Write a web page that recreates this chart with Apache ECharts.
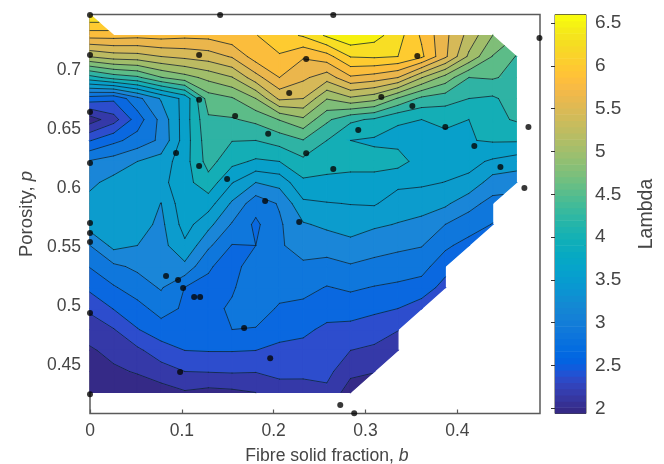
<!DOCTYPE html>
<html><head><meta charset="utf-8">
<style>html,body{margin:0;padding:0;background:#fff}#c{width:664px;height:464px}</style>
<script src="https://cdn.jsdelivr.net/npm/echarts@6/dist/echarts.min.js"></script>
</head><body><div id="c"></div>
<script>
const bTicks=[0,0.1,0.2,0.3,0.4];
const pTicks=[0.45,0.5,0.55,0.6,0.65,0.7];
const lambdaTicks=[2,2.5,3,3.5,4,4.5,5,5.5,6,6.5];
const B_MAX=0.49,P_MIN=0.409,P_MAX=0.747,LAMBDA_MIN=1.94,LAMBDA_MAX=6.6;
const bMesh=[0,0.0258,0.0516,0.0774,0.1032,0.1289,0.1547,0.1805,0.2063,0.2321,0.2579,0.2837,0.3095,0.3353,0.3611,0.3868,0.4126,0.4384,0.4642];
const pMesh=[0.747,0.7292,0.7114,0.6936,0.6758,0.658,0.6403,0.6225,0.6047,0.5869,0.5691,0.5513,0.5335,0.5157,0.4979,0.4801,0.4624,0.4446,0.4268];
// Lambda, in contour steps above LAMBDA_MIN, row by row from the top
const _=null;
const lambdaSteps=[
[18.95,_,_,_,_,_,_,_,_,_,_,_,_,_,_,_,_,_,_],
[16.4,16.4,16.3,16.4,16.25,16.3,16.7,16.95,17.6,18.1,19.15,19.8,19.4,18.4,16.85,15.25,13.65,12.0,_],
[13.05,13.5,13.6,14,14.25,14.5,15.1,16.5,16.9,16.1,16.6,18.05,18.15,18.0,17.2,15.2,12.8,10.95,9.95],
[8.6,9.4,9.8,10.95,11.6,12.3,12.95,14.6,16.0,15.2,14.45,15.85,15.55,15.0,13.05,11.6,10.0,10.1,9.7],
[3.5,3.2,4.7,6.1,7.3,10.5,10.9,12.0,14.2,14.0,12.05,12.8,12.35,10.9,9.75,9.45,9.0,8.85,9.45],
[0.5,1.6,3.5,5.3,7.5,9.85,9.9,10.25,11.05,11.8,10.2,9.2,8.85,8.1,8.0,8.2,8.0,8.75,9.1],
[2.95,3.75,4.4,5.2,7.5,9.6,9.03,9.0,9.4,9.95,9.0,8.0,7.85,7.75,7.75,7.75,7.95,8.1,8.1],
[5.1,5.45,6.0,6.45,7.6,9.4,8.3,7.85,8.0,8.75,8.4,8.3,8.35,8.35,7.6,7.45,7.3,6.85,6.5],
[5.8,6.3,6.5,6.7,7.65,8.6,7.05,6.0,6.35,7.8,7.75,7.7,7.65,7.25,7.15,6.98,6.75,5.5,5.4],
[6.3,6.7,6.65,5.98,7.7,7.45,5.85,4.4,5.1,6.8,6.95,7.03,7.1,6.5,6.45,6.2,5.3,4.7,_],
[6.5,6.65,6.45,5.75,7.4,6.3,4.9,3.8,4.85,5.9,6.2,6.45,6.15,5.95,5.7,5.0,4.55,3.95,_],
[5.0,6.3,6.0,5.65,6.8,5.2,3.95,4.0,4.9,5.35,5.45,5.7,5.4,5.2,5.05,4.2,3.6,_,_],
[4.05,4.8,5.2,5.55,5.75,4.05,3.8,4.3,4.95,4.85,4.65,4.9,4.7,4.55,4.35,3.4,_,_,_],
[3.25,3.9,4.5,5.1,3.98,3.9,3.92,4.45,4.3,4.3,3.95,4.15,3.95,3.8,3.6,2.6,_,_,_],
[2.15,3.05,3.65,4.4,3.85,3.8,4.1,4.4,3.9,3.75,3.4,3.45,3.2,3.0,2.45,_,_,_,_],
[1.55,1.95,2.95,3.55,3.55,3.7,4.0,3.95,3.55,3.2,2.8,2.7,2.5,2.05,_,_,_,_,_],
[0.85,1.35,1.8,2.55,3.0,3.05,3.05,3.0,2.65,2.7,2.5,2.0,1.8,1.3,_,_,_,_,_],
[0.5,0.8,1.1,1.55,2.0,2.05,2.1,2.05,2.2,2.25,2.3,1.25,1.05,_,_,_,_,_,_],
[0.1,0.15,0.3,0.55,0.9,0.7,0.8,1.0,1.65,1.55,1.75,0.5,_,_,_,_,_,_,_]
];
const dotB=[0,0.1417,0.2649,0.4894,0,0.1188,0.2354,0.2169,0.3564,0.1188,0.158,0,0.194,0.0937,0,0.1188,0.1493,0.2354,0.1907,0.3172,0.351,0.2921,0.3869,0.4185,0.2649,0.4469,0.4774,0.473,0,0,0,0.0828,0.0959,0.1014,0.1134,0.1199,0.2278,0,0.1678,0.1962,0.0981,0,0.2725,0.2877];
const dotP=[0.7466,0.7466,0.7466,0.7271,0.7127,0.7127,0.7093,0.6805,0.7119,0.6748,0.661,0.6644,0.646,0.6297,0.6212,0.6186,0.6076,0.6294,0.589,0.6771,0.6695,0.6492,0.6517,0.6356,0.6161,0.6178,0.6517,0.6,0.5703,0.5619,0.5542,0.5254,0.522,0.5153,0.5076,0.5076,0.5712,0.4941,0.4814,0.4559,0.4441,0.4254,0.4161,0.4093];
const bandColors=['#352a87','#3539a8','#2d4dcd','#0a68e0','#0f77dc','#1a86d8','#0c9ccd','#08a0ca','#14aeb6','#2fb3a4','#5cbc88','#7fbe78','#a0bd6a','#bcbb62','#d6b958','#ebb64c','#fbbd3c','#fecb30','#f8de24','#f6f010'];
const parula=['#352a87','#363093','#3637a0','#353dad','#3243ba','#2c4ac7','#2053d4','#0f5cdd','#0363e1','#0268e1','#046de0','#0871de','#0d75dc','#1079da','#127dd8','#1481d6','#1485d4','#1389d3','#108ed2','#0c93d2','#0998d1','#079ccf','#06a0cd','#06a4ca','#06a7c6','#07a9c2','#0cacbe','#0faeb9','#15b1b4','#1db3af','#25b5a9','#2eb7a4','#38b99e','#42bb98','#4dbc92','#59bd8c','#65be86','#71bf80','#7dbf7b','#87bf77','#91bf72','#9bbf6f','#a5be6b','#aebe67','#b7bd64','#c0bc60','#c8bc5d','#d1bb59','#d9ba56','#e1b952','#e9b94e','#f1b94a','#f8bb44','#fdbe3d','#ffc337','#fec832','#fcce2e','#fad32a','#f7d826','#f5de21','#f5e41d','#f5eb18','#f6f313','#f9fb0e'];

const N=bandColors.length;
function mesh(r,c){const v=lambdaSteps[r]&&lambdaSteps[r][c];return (v===null||v===undefined)?null:{x:bMesh[c],y:pMesh[r],v:v};}
const cells=[];
for(let r=0;r<lambdaSteps.length-1;r++)for(let c=0;c<bMesh.length-1;c++){
  const q=[mesh(r,c),mesh(r,c+1),mesh(r+1,c+1),mesh(r+1,c)].filter(Boolean);
  if(q.length>=3)cells.push(q);
}
function clip(poly,lev,keepAbove){
  const out=[];
  for(let i=0;i<poly.length;i++){
    const a=poly[i],b=poly[(i+1)%poly.length];
    const ia=keepAbove?a.v>=lev:a.v<=lev, ib=keepAbove?b.v>=lev:b.v<=lev;
    if(ia)out.push(a);
    if(ia!==ib){const t=(lev-a.v)/(b.v-a.v);out.push({x:a.x+t*(b.x-a.x),y:a.y+t*(b.y-a.y),v:lev});}
  }
  return out;
}
const fills=[],lines=[];
cells.forEach(t=>{
  for(let i=0;i<N;i++){
    let p=clip(t,i,true);
    if(i<N-1&&p.length)p=clip(p,i+1,false);
    if(p.length>=3)fills.push({band:i,pts:p.map(q=>[q.x,q.y])});
  }
  for(let l=1;l<N;l++){
    const seg=[];
    for(let i=0;i<t.length;i++){
      const a=t[i],b=t[(i+1)%t.length];
      if((a.v<l)!==(b.v<l)){const s=(l-a.v)/(b.v-a.v);seg.push([a.x+s*(b.x-a.x),a.y+s*(b.y-a.y)]);}
    }
    if(seg.length===2)lines.push(seg);
    if(seg.length===4){lines.push([seg[0],seg[1]]);lines.push([seg[2],seg[3]]);}
  }
});
const minorTicks=[];for(let i=20;i<=66;i++)minorTicks.push(i/10);
const FONT='"Liberation Sans",Arial,sans-serif',TXT='#454545',AX='#5a5a5a';
const lab={fontFamily:FONT,fontSize:17.5,color:TXT};
const chart=echarts.init(document.getElementById('c'),null,{renderer:'canvas'});
chart.setOption({
  animation:false,backgroundColor:'#fff',
  grid:[
    {left:90,top:14.5,width:450,height:399,outerBoundsMode:'none',show:true,borderColor:AX,borderWidth:1.5,backgroundColor:'transparent'},
    {left:555,top:14.5,width:31,height:399,outerBoundsMode:'none',show:true,borderColor:'#444',borderWidth:1,backgroundColor:'transparent'}
  ],
  xAxis:[
    {type:'value',gridIndex:0,min:0,max:B_MAX,splitLine:{show:false},
     axisLine:{show:false},
     axisTick:{inside:true,length:4,customValues:bTicks,lineStyle:{color:AX,width:1.2}},
     axisLabel:{...lab,margin:9,customValues:bTicks,formatter:v=>String(v)},
     name:'Fibre solid fraction, {i|b}',nameLocation:'middle',nameGap:34,
     nameTextStyle:{...lab,fontSize:17.6,padding:[0,0,0,24],rich:{i:{...lab,fontSize:17.6,fontStyle:'italic'}}}},
    {type:'value',gridIndex:1,min:0,max:1,show:false}
  ],
  yAxis:[
    {type:'value',gridIndex:0,min:P_MIN,max:P_MAX,splitLine:{show:false},
     axisLine:{show:false},
     axisTick:{inside:true,length:4,customValues:pTicks,lineStyle:{color:AX,width:1.2}},
     axisLabel:{...lab,margin:9,customValues:pTicks,formatter:v=>String(v)},
     name:'Porosity, {i|p}',nameLocation:'middle',nameGap:54,
     nameTextStyle:{...lab,fontSize:18.5,rich:{i:{...lab,fontSize:18.5,fontStyle:'italic'}}}},
    {type:'value',gridIndex:1,position:'right',min:LAMBDA_MIN,max:LAMBDA_MAX,splitLine:{show:false},
     axisLine:{show:false},
     axisTick:{inside:true,length:4,customValues:lambdaTicks,lineStyle:{color:'#333',width:1}},
     axisLabel:{...lab,fontSize:19,margin:9,customValues:lambdaTicks,formatter:v=>String(v)},
     name:'Lambda',nameLocation:'middle',nameGap:51,nameRotate:90,nameTextStyle:{...lab,fontSize:19.5}},
    {type:'value',gridIndex:1,position:'right',min:LAMBDA_MIN,max:LAMBDA_MAX,splitLine:{show:false},
     axisLine:{show:false},axisLabel:{show:false},
     axisTick:{inside:true,length:2,customValues:minorTicks,lineStyle:{color:'#333',width:1}}}
  ],
  series:[
    {type:'custom',xAxisIndex:0,yAxisIndex:0,clip:false,silent:true,z:2,progressive:0,
     data:fills.map((_,i)=>[i]),
     renderItem(params,api){
       const f=fills[api.value(0)];
       const col=bandColors[f.band];
       return {type:'polygon',shape:{points:f.pts.map(q=>api.coord(q))},style:{fill:col,stroke:col,lineWidth:1.2}};
     }},
    {type:'custom',xAxisIndex:0,yAxisIndex:0,clip:false,silent:true,z:3,progressive:0,
     data:lines.map((_,i)=>[i]),
     renderItem(params,api){
       const s=lines[api.value(0)];
       return {type:'line',shape:{x1:api.coord(s[0])[0],y1:api.coord(s[0])[1],x2:api.coord(s[1])[0],y2:api.coord(s[1])[1]},
         style:{stroke:'rgba(15,35,50,0.78)',lineWidth:1,lineCap:'round'}};
     }},
    {type:'scatter',xAxisIndex:0,yAxisIndex:0,clip:false,silent:true,z:5,symbolSize:6,
     itemStyle:{color:'#050505'},data:dotB.map((b,i)=>[b,dotP[i]])},
    {type:'custom',xAxisIndex:1,yAxisIndex:1,clip:true,silent:true,z:2,progressive:0,
     data:parula.map((_,i)=>[i]),
     renderItem(params,api){
       const i=api.value(0),h=(LAMBDA_MAX-LAMBDA_MIN)/parula.length;
       const a=api.coord([0,LAMBDA_MIN+i*h]),b=api.coord([1,LAMBDA_MIN+(i+1)*h]);
       return {type:'rect',shape:{x:a[0],y:b[1],width:b[0]-a[0],height:a[1]-b[1]+0.6},style:{fill:parula[i]}};
     }}
  ]
});
</script></body></html>
